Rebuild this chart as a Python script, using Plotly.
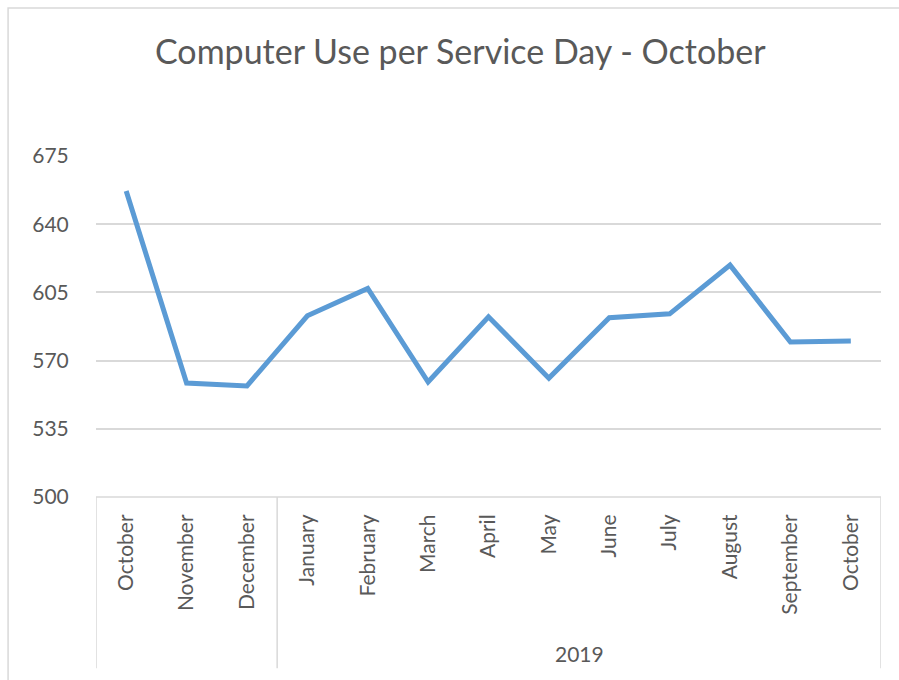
import plotly.graph_objects as go

# data
months = ["October", "November", "December", "January", "February", "March", "April",
          "May", "June", "July", "August", "September", "October"]
year_groups = [("", 0, 2), ("2019", 3, 12)]  # label, first index, last index
computer_use = [657, 558.5, 557, 593, 607, 559, 592.5, 561, 592, 594, 619, 579.5, 580]

y_ticks = [500, 535, 570, 605, 640, 675]

TEXT = "#595959"
GRID = "#d9d9d9"
FONT = "Lato, Open Sans, sans-serif"

positions = list(range(len(months)))

fig = go.Figure()
fig.add_trace(go.Scatter(
    x=positions,
    y=computer_use,
    mode="lines",
    line=dict(color="#5b9bd5", width=5),
    customdata=months,
    hovertemplate="%{customdata}: %{y}<extra></extra>",
))

# group dividers and year labels below the month labels
shapes = []
annotations = []
edges = sorted({g[1] - 0.5 for g in year_groups} | {g[2] + 0.5 for g in year_groups})
for e in edges:
    shapes.append(dict(type="line", xref="x", yref="paper",
                       x0=e, x1=e, y0=0, y1=-0.502,
                       line=dict(color=GRID, width=1.5)))
for label, first, last in year_groups:
    if label:
        annotations.append(dict(x=(first + last) / 2, y=-0.46, xref="x", yref="paper",
                                text=label, showarrow=False, yanchor="middle",
                                font=dict(family=FONT, size=21, color=TEXT)))

# outer chart border
shapes.append(dict(type="rect", xref="paper", yref="paper",
                   x0=-0.112, x1=1.1, y0=-0.62, y1=1.434,
                   line=dict(color=GRID, width=1.5), layer="below"))
# baseline at 500
shapes.append(dict(type="line", xref="paper", yref="paper",
                   x0=0, x1=1, y0=0, y1=0,
                   line=dict(color=GRID, width=1.5)))

fig.update_layout(
    width=899,
    height=680,
    margin=dict(l=96, r=18, t=156, b=183),
    paper_bgcolor="white",
    plot_bgcolor="white",
    showlegend=False,
    font=dict(family=FONT, color=TEXT, size=21),
    title=dict(
        text="Computer Use per Service Day - October",
        x=0.512, xanchor="center",
        y=0.924, yanchor="middle",
        font=dict(family=FONT, size=34, color=TEXT),
    ),
    xaxis=dict(
        range=[-0.5, 12.5],
        tickvals=positions,
        ticktext=months,
        tickangle=-90,
        showgrid=False,
        showline=False,
        zeroline=False,
        ticks="outside",
        ticklen=8,
        tickcolor="white",
        automargin=False,
        tickfont=dict(size=21, color=TEXT),
    ),
    yaxis=dict(
        range=[500, 675],
        tickvals=y_ticks,
        showgrid=True,
        gridcolor=GRID,
        gridwidth=1.5,
        zeroline=False,
        showline=False,
        ticks="outside",
        ticklen=22,
        tickcolor="white",
        automargin=False,
        tickfont=dict(size=21, color=TEXT),
    ),
    shapes=shapes,
    annotations=annotations,
)

fig.write_html("out.html", config={"displayModeBar": False},
               post_script="document.body.style.margin='0';")
